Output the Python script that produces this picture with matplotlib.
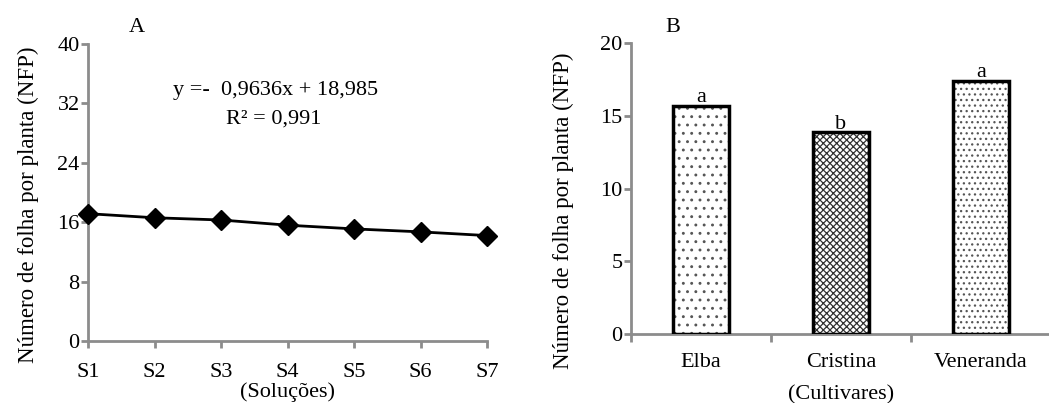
import numpy as np
import matplotlib
matplotlib.use("Agg")
import matplotlib.pyplot as plt

# ---------------- data ----------------
solucoes = ["S1", "S2", "S3", "S4", "S5", "S6", "S7"]
nfp_solucoes = [17.15, 16.6, 16.3, 15.6, 15.1, 14.7, 14.2]

cultivares = ["Elba", "Cristina", "Veneranda"]
nfp_cultivares = [15.7, 13.85, 17.4]
letras = ["a", "b", "a"]
hatches = ["..", "xxxxx", "..."]
hatch_cores = ["#555555", "#333333", "#555555"]

plt.rcParams["font.family"] = ["Liberation Serif", "DejaVu Serif"]
plt.rcParams["font.size"] = 16
plt.rcParams["hatch.linewidth"] = 0.9

gray = "#8c8c8c"

fig = plt.figure(figsize=(10.49, 4.03), dpi=100)

# ---------------- panel A ----------------
axA = fig.add_axes([0.0839, 0.1538, 0.4643 - 0.0839, 0.8908 - 0.1538])
xA = np.arange(1, len(solucoes) + 1)
axA.plot(xA, nfp_solucoes, color="black", lw=2, marker="D", markersize=10,
         clip_on=False, zorder=3)
axA.set_xlim(1, 7)
axA.set_ylim(0, 40)
axA.set_yticks([0, 8, 16, 24, 32, 40])
axA.set_xticks(xA)
axA.set_xticklabels(solucoes)
for s in ["top", "right"]:
    axA.spines[s].set_visible(False)
for s in ["left", "bottom"]:
    axA.spines[s].set_color(gray)
    axA.spines[s].set_linewidth(2)
axA.tick_params(axis="both", colors=gray, width=2, length=5, labelcolor="black")
axA.tick_params(axis="y", pad=1)
axA.tick_params(axis="x", pad=11)
axA.set_xlabel("(Soluções)", labelpad=0)
axA.set_ylabel("Número de folha por planta (NFP)", fontsize=16.5)
axA.yaxis.set_label_coords(-0.122, 0.46)
axA.text(0.469, 0.845, "y =-  0,9636x + 18,985", transform=axA.transAxes,
         ha="center", va="center")
axA.text(0.466, 0.748, "R² = 0,991", transform=axA.transAxes,
         ha="center", va="center")
fig.text(137 / 1049, 1 - 27 / 403, "A", ha="center", va="center")

# ---------------- panel B ----------------
axB = fig.add_axes([0.6015, 0.1712, 1.0019 - 0.6015, 0.8933 - 0.1712])
xB = np.arange(len(cultivares))
for i in range(len(cultivares)):
    # hatch drawn in gray, outline drawn in black on top
    axB.bar(xB[i], nfp_cultivares[i], width=0.4, color="white",
            edgecolor=hatch_cores[i], linewidth=0, hatch=hatches[i], zorder=2)
    axB.bar(xB[i], nfp_cultivares[i], width=0.4, fill=False,
            edgecolor="black", linewidth=2.5, zorder=3)
    axB.text(xB[i], nfp_cultivares[i] + 0.25, letras[i], ha="center",
             va="baseline")
axB.set_xlim(-0.5, 2.5)
axB.set_ylim(0, 20)
axB.set_yticks([0, 5, 10, 15, 20])
axB.set_xticks(xB)
axB.set_xticklabels(cultivares)
axB.set_xticks([-0.5, 0.5, 1.5, 2.5], minor=True)
for s in ["top", "right"]:
    axB.spines[s].set_visible(False)
for s in ["left", "bottom"]:
    axB.spines[s].set_color(gray)
    axB.spines[s].set_linewidth(2)
axB.tick_params(axis="y", colors=gray, width=2, length=5, labelcolor="black", pad=1)
axB.tick_params(axis="x", which="major", length=0, pad=14)
axB.tick_params(axis="x", which="minor", colors=gray, width=2, length=6)
axB.set_xlabel("(Cultivares)", labelpad=9)
axB.set_ylabel("Número de folha por planta (NFP)", fontsize=16.5)
axB.yaxis.set_label_coords(-0.135, 0.424)
fig.text(673 / 1049, 1 - 27 / 403, "B", ha="center", va="center")

fig.savefig("out.png", dpi=100)
